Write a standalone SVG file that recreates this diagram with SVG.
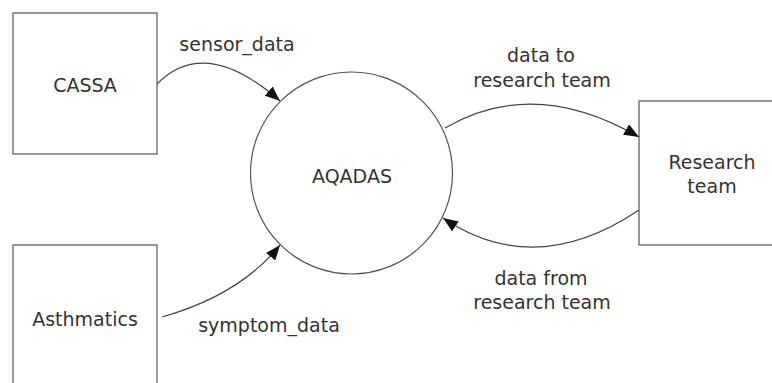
<svg xmlns="http://www.w3.org/2000/svg" width="772" height="383" viewBox="0 0 772 383">
<style>
.box{fill:#fff;stroke:#555;stroke-width:1.2}
.t{font-family:"DejaVu Sans",Verdana,sans-serif;font-size:19px;fill:#333;text-anchor:middle}
.c{fill:none;stroke:#444;stroke-width:1.2}
</style>
<defs>
<marker id="ah" markerUnits="userSpaceOnUse" markerWidth="16" markerHeight="12" refX="15" refY="6" orient="auto">
<path d="M0,0 L15,6 L0,12 Z" fill="#111"/>
</marker>
</defs>
<rect width="772" height="383" fill="#fff"/>
<g id="cassa">
<rect class="box" x="13" y="13" width="144" height="141"/>
<text class="t" x="85" y="92">CASSA</text>
</g>
<g id="asthmatics">
<rect class="box" x="13" y="245" width="144" height="145"/>
<text class="t" x="85" y="326">Asthmatics</text>
</g>
<g id="aqadas">
<circle cx="351.5" cy="173" r="101" fill="#fff" stroke="#555" stroke-width="1.2"/>
<text class="t" x="352" y="183">AQADAS</text>
</g>
<g id="research">
<rect class="box" x="639" y="101" width="150" height="144"/>
<text class="t" x="712" y="169">Research</text>
<text class="t" x="712" y="193">team</text>
</g>
<g id="connectors">
<path class="c" d="M157,84 Q205,35 280,101" marker-end="url(#ah)"/>
<path class="c" d="M162,317 Q240,295 280,245" marker-end="url(#ah)"/>
<path class="c" d="M445,128 Q534,76 639,137" marker-end="url(#ah)"/>
<path class="c" d="M639,210 Q535,280 443,218" marker-end="url(#ah)"/>
<text class="t" x="237" y="51">sensor_data</text>
<text class="t" x="269" y="332">symptom_data</text>
<text class="t" x="541" y="62">data to</text>
<text class="t" x="542" y="87">research team</text>
<text class="t" x="541" y="285">data from</text>
<text class="t" x="542" y="309">research team</text>
</g>
</svg>
